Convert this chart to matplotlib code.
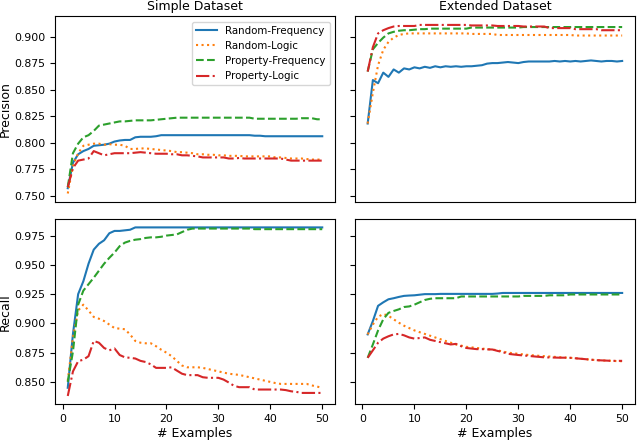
import matplotlib
matplotlib.use("Agg")
import matplotlib.pyplot as plt
from matplotlib.ticker import MultipleLocator, FormatStrFormatter

examples = list(range(1, 51))
series_names = ["Random-Frequency", "Random-Logic", "Property-Frequency", "Property-Logic"]
col_titles = ["Simple Dataset", "Extended Dataset"]
row_labels = ["Precision", "Recall"]
x_ticks = [0, 10, 20, 30, 40, 50]

# Simple dataset - precision
sp_rf = [0.757, 0.781, 0.789, 0.792, 0.794, 0.797, 0.7975, 0.798, 0.799, 0.801,
         0.802, 0.8025, 0.8025, 0.805, 0.8055, 0.8055, 0.8055, 0.806, 0.807, 0.807,
         0.807, 0.807, 0.807, 0.807, 0.807, 0.807, 0.807, 0.807, 0.807, 0.807,
         0.807, 0.807, 0.807, 0.807, 0.807, 0.807, 0.8065, 0.8065, 0.806, 0.806,
         0.806, 0.806, 0.806, 0.806, 0.806, 0.806, 0.806, 0.806, 0.806, 0.806]
sp_rl = [0.752, 0.778, 0.790, 0.797, 0.798, 0.799, 0.799, 0.798, 0.7985, 0.798,
         0.798, 0.797, 0.794, 0.794, 0.7945, 0.7945, 0.794, 0.7935, 0.793, 0.7925,
         0.792, 0.791, 0.791, 0.7905, 0.790, 0.789, 0.789, 0.7885, 0.7885, 0.788,
         0.788, 0.7875, 0.7875, 0.7875, 0.787, 0.787, 0.787, 0.787, 0.787, 0.787,
         0.786, 0.786, 0.7855, 0.785, 0.785, 0.785, 0.7845, 0.784, 0.784, 0.784]
sp_pf = [0.758, 0.790, 0.799, 0.805, 0.807, 0.811, 0.816, 0.817, 0.818, 0.819,
         0.820, 0.820, 0.8205, 0.821, 0.821, 0.821, 0.821, 0.8215, 0.822, 0.8225,
         0.823, 0.8235, 0.8235, 0.8235, 0.8235, 0.8235, 0.8235, 0.8235, 0.8235, 0.8235,
         0.8235, 0.8235, 0.8235, 0.8235, 0.8235, 0.8235, 0.8225, 0.8225, 0.8225, 0.8225,
         0.8225, 0.8225, 0.8225, 0.8225, 0.8225, 0.823, 0.823, 0.823, 0.822, 0.822]
sp_pl = [0.758, 0.776, 0.783, 0.784, 0.785, 0.792, 0.790, 0.788, 0.789, 0.790,
         0.790, 0.790, 0.790, 0.7905, 0.791, 0.7905, 0.790, 0.7895, 0.7895, 0.7895,
         0.789, 0.789, 0.788, 0.788, 0.7875, 0.787, 0.786, 0.786, 0.786, 0.786,
         0.786, 0.785, 0.785, 0.7855, 0.785, 0.785, 0.785, 0.785, 0.785, 0.785,
         0.785, 0.785, 0.784, 0.783, 0.783, 0.783, 0.783, 0.783, 0.783, 0.783]

# Extended dataset - precision
ep_rf = [0.818, 0.859, 0.856, 0.866, 0.862, 0.869, 0.866, 0.870, 0.869, 0.871,
         0.870, 0.8715, 0.8705, 0.872, 0.871, 0.872, 0.8715, 0.872, 0.8715, 0.872,
         0.872, 0.8725, 0.873, 0.8745, 0.875, 0.875, 0.8755, 0.876, 0.8755, 0.875,
         0.876, 0.8765, 0.8765, 0.8765, 0.8765, 0.8765, 0.877, 0.8765, 0.877, 0.8765,
         0.877, 0.8765, 0.877, 0.8775, 0.877, 0.8765, 0.877, 0.877, 0.8765, 0.877]
ep_rl = [0.818, 0.847, 0.873, 0.8875, 0.895, 0.899, 0.9015, 0.9025, 0.903, 0.903,
         0.903, 0.903, 0.903, 0.903, 0.903, 0.903, 0.903, 0.903, 0.903, 0.903,
         0.9025, 0.9025, 0.9025, 0.9025, 0.9025, 0.9015, 0.9015, 0.9015, 0.9015, 0.9015,
         0.9015, 0.9015, 0.9015, 0.9015, 0.9015, 0.9015, 0.9015, 0.9015, 0.9015, 0.9015,
         0.901, 0.901, 0.901, 0.901, 0.901, 0.901, 0.901, 0.901, 0.901, 0.901]
ep_pf = [0.867, 0.888, 0.894, 0.899, 0.903, 0.9045, 0.9055, 0.906, 0.906, 0.9065,
         0.907, 0.907, 0.9075, 0.9075, 0.9075, 0.9075, 0.9075, 0.9075, 0.9075, 0.9075,
         0.9085, 0.9085, 0.9085, 0.9085, 0.9085, 0.9085, 0.9085, 0.9085, 0.9085, 0.9085,
         0.909, 0.909, 0.909, 0.909, 0.909, 0.909, 0.909, 0.909, 0.909, 0.909,
         0.909, 0.909, 0.909, 0.909, 0.909, 0.909, 0.909, 0.909, 0.909, 0.909]
ep_pl = [0.867, 0.890, 0.903, 0.906, 0.908, 0.9095, 0.910, 0.910, 0.910, 0.910,
         0.911, 0.911, 0.911, 0.911, 0.911, 0.911, 0.911, 0.911, 0.911, 0.911,
         0.9105, 0.9105, 0.9105, 0.9105, 0.9105, 0.910, 0.910, 0.910, 0.910, 0.910,
         0.9095, 0.9095, 0.9095, 0.9095, 0.9095, 0.908, 0.908, 0.908, 0.908, 0.908,
         0.907, 0.907, 0.907, 0.907, 0.907, 0.906, 0.906, 0.906, 0.906, 0.906]

# Simple dataset - recall
sr_rf = [0.845, 0.891, 0.925, 0.936, 0.951, 0.963, 0.968, 0.971, 0.977, 0.979,
         0.979, 0.9795, 0.980, 0.982, 0.982, 0.982, 0.982, 0.982, 0.982, 0.982,
         0.982, 0.982, 0.982, 0.982, 0.982, 0.982, 0.982, 0.982, 0.982, 0.982,
         0.982, 0.982, 0.982, 0.982, 0.982, 0.982, 0.982, 0.982, 0.982, 0.982,
         0.982, 0.982, 0.982, 0.982, 0.982, 0.982, 0.982, 0.982, 0.982, 0.982]
sr_rl = [0.851, 0.888, 0.911, 0.916, 0.911, 0.9055, 0.904, 0.902, 0.899, 0.896,
         0.8955, 0.895, 0.8905, 0.885, 0.8835, 0.883, 0.883, 0.8805, 0.8775, 0.875,
         0.872, 0.868, 0.864, 0.8625, 0.8625, 0.8625, 0.862, 0.861, 0.860, 0.859,
         0.858, 0.857, 0.8565, 0.856, 0.855, 0.854, 0.853, 0.852, 0.851, 0.850,
         0.849, 0.8483, 0.8483, 0.8483, 0.8483, 0.8483, 0.8483, 0.847, 0.846, 0.845]
sr_pf = [0.850, 0.876, 0.916, 0.928, 0.9335, 0.939, 0.945, 0.951, 0.956, 0.9605,
         0.966, 0.969, 0.9705, 0.9715, 0.972, 0.973, 0.9735, 0.9735, 0.974, 0.975,
         0.9755, 0.976, 0.978, 0.980, 0.981, 0.981, 0.981, 0.981, 0.981, 0.981,
         0.981, 0.981, 0.981, 0.981, 0.981, 0.981, 0.9805, 0.9805, 0.9805, 0.9805,
         0.9805, 0.9805, 0.9805, 0.9805, 0.9805, 0.9805, 0.9805, 0.9805, 0.9805, 0.9805]
sr_pl = [0.838, 0.859, 0.8677, 0.869, 0.872, 0.885, 0.8835, 0.879, 0.877, 0.8786,
         0.873, 0.871, 0.8706, 0.870, 0.868, 0.867, 0.865, 0.862, 0.862, 0.862,
         0.8625, 0.8597, 0.857, 0.8558, 0.8558, 0.8558, 0.854, 0.8535, 0.8535, 0.8535,
         0.852, 0.8495, 0.8467, 0.8455, 0.8455, 0.8455, 0.8435, 0.8435, 0.8435, 0.8435,
         0.8435, 0.8435, 0.843, 0.842, 0.8415, 0.8406, 0.8406, 0.8406, 0.8406, 0.8406]

# Extended dataset - recall
er_rf = [0.8906, 0.902, 0.915, 0.918, 0.9206, 0.9215, 0.9226, 0.9235, 0.9238, 0.924,
         0.9245, 0.925, 0.925, 0.925, 0.9252, 0.9252, 0.9252, 0.9252, 0.9252, 0.9252,
         0.9252, 0.9252, 0.9252, 0.9252, 0.9252, 0.9255, 0.926, 0.926, 0.926, 0.926,
         0.926, 0.926, 0.926, 0.926, 0.926, 0.926, 0.926, 0.926, 0.926, 0.926,
         0.926, 0.926, 0.926, 0.926, 0.926, 0.926, 0.926, 0.926, 0.926, 0.926]
er_rl = [0.8906, 0.899, 0.9056, 0.908, 0.9065, 0.9035, 0.9006, 0.898, 0.896, 0.894,
         0.8925, 0.891, 0.8895, 0.888, 0.8865, 0.885, 0.8835, 0.882, 0.881, 0.880,
         0.8795, 0.879, 0.8785, 0.878, 0.8777, 0.877, 0.876, 0.875, 0.8745, 0.874,
         0.8735, 0.873, 0.8727, 0.8723, 0.872, 0.8717, 0.8714, 0.8711, 0.8708, 0.8706,
         0.8702, 0.8698, 0.8694, 0.869, 0.8686, 0.8684, 0.8682, 0.868, 0.8678, 0.8677]
er_pf = [0.8706, 0.882, 0.894, 0.9035, 0.909, 0.9106, 0.912, 0.914, 0.9145, 0.916,
         0.918, 0.920, 0.921, 0.9215, 0.9215, 0.9215, 0.9215, 0.9215, 0.923, 0.923,
         0.923, 0.923, 0.923, 0.923, 0.923, 0.923, 0.923, 0.923, 0.923, 0.923,
         0.9235, 0.9235, 0.9235, 0.9235, 0.9235, 0.924, 0.924, 0.924, 0.924, 0.9247,
         0.9247, 0.9247, 0.9247, 0.9247, 0.9247, 0.9247, 0.9247, 0.9247, 0.9247, 0.9247]
er_pl = [0.8706, 0.877, 0.8835, 0.887, 0.889, 0.8906, 0.891, 0.8898, 0.888, 0.887,
         0.8875, 0.888, 0.886, 0.885, 0.884, 0.883, 0.882, 0.8825, 0.8805, 0.879,
         0.8785, 0.878, 0.878, 0.8778, 0.8777, 0.8765, 0.8755, 0.874, 0.8735, 0.873,
         0.8726, 0.8722, 0.8718, 0.8714, 0.871, 0.8709, 0.8708, 0.8707, 0.8707, 0.8706,
         0.8702, 0.8698, 0.8694, 0.869, 0.8686, 0.8684, 0.8682, 0.868, 0.868, 0.868]

panels = [[[sp_rf, sp_rl, sp_pf, sp_pl], [ep_rf, ep_rl, ep_pf, ep_pl]],
          [[sr_rf, sr_rl, sr_pf, sr_pl], [er_rf, er_rl, er_pf, er_pl]]]

colors = ["#1f77b4", "#ff7f0e", "#2ca02c", "#d62728"]
styles = ["-", ":", "--", "-."]

fig, axes = plt.subplots(2, 2, figsize=(6.4, 4.41), dpi=100, sharex=True, sharey="row")
fig.subplots_adjust(left=0.086, right=0.992, top=0.9626, bottom=0.083, wspace=0.0714, hspace=0.092)

for r in range(2):
    for c in range(2):
        ax = axes[r][c]
        for s, vals in enumerate(panels[r][c]):
            ax.plot(examples, vals, color=colors[s], linestyle=styles[s],
                    label=series_names[s], linewidth=1.5)
        ax.tick_params(labelsize=7.8)
        if r == 0:
            ax.set_title(col_titles[c], fontsize=9, pad=4.5)
            ax.tick_params(axis="x", bottom=False)
        else:
            ax.set_xlabel("# Examples", fontsize=9, labelpad=2)
        ax.yaxis.set_major_locator(MultipleLocator(0.025))
        ax.yaxis.set_major_formatter(FormatStrFormatter("%.3f"))
    axes[r][0].set_ylabel(row_labels[r], fontsize=9, labelpad=1.5)

axes[0][0].legend(loc="upper right", fontsize=7.4)
axes[1][0].set_xticks(x_ticks)

fig.savefig("out.png", dpi=100)
